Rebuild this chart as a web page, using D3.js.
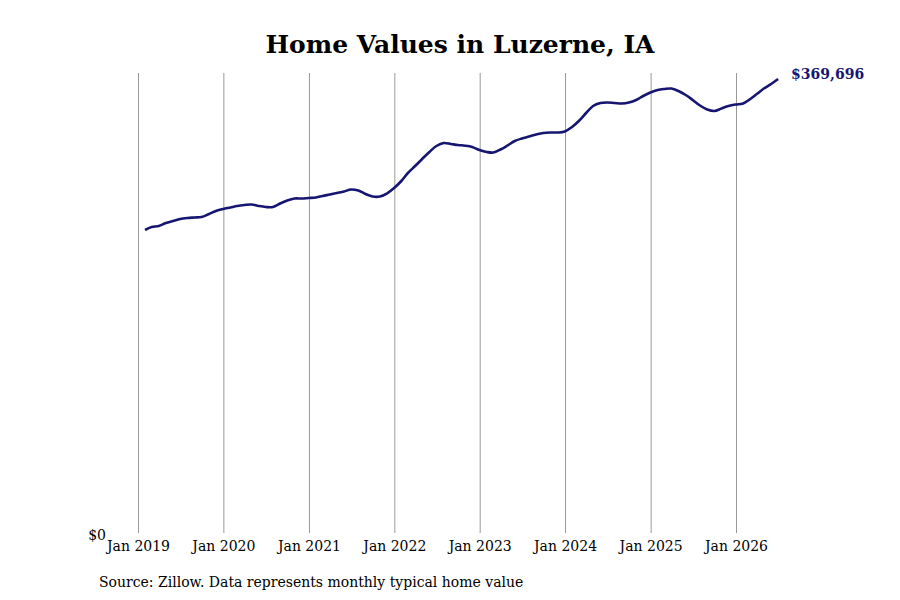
<!DOCTYPE html>
<html>
    <head>
        <meta charset="utf-8">
        <title>home values</title>
        <style>
            body {
                margin: 0;
                background: white;
            }
            svg {
                font-family: "DejaVu Serif", serif;
            }
            .grid line {
                stroke: #999;
                stroke-width: 1;
            }
            path.line {
                fill: none;
                stroke: #161672;
                stroke-width: 2.6;
            }
        </style>
        <script src="https://d3js.org/d3.v7.min.js"></script>
    </head>
    <body>
        <svg id='main' width='900' height='600'></svg>
    <script>

        // monthly typical home value, end of month, Jan 2019 .. Jun 2026
        let startMonth = '2019-01';
        let values = [
            246733, 249176, 249990, 252433, 254062, 255690, 256505, 256912, 257319, 259762, 262205, 263833,
            265055, 266276, 267090, 267498, 266276, 265462, 265462, 268312, 270755, 272383, 272383, 272790,
            273198, 274419, 275641, 276862, 278083, 279712, 278898, 276048, 274012, 274012, 276455, 280934,
            286634, 293148, 298848, 304548, 310248, 315134, 317577, 316763, 315948, 315378, 314320, 311877,
            310248, 309841, 312284, 315541, 319206, 321241, 322870, 324499, 325720, 326127, 326127, 326941,
            330606, 335492, 342006, 347706, 350149, 350556, 350149, 349742, 350556, 352592, 355849, 358699,
            360735, 361549, 361956, 359921, 356663, 352592, 348113, 344856, 343635, 345670, 347706, 348920,
            349742, 353006, 357478, 361956, 365621, 369696
        ];
        let tickYears = [2019, 2020, 2021, 2022, 2023, 2024, 2025, 2026];
        let title = 'Home Values in Luzerne, IA';
        let source = 'Source: Zillow. Data represents monthly typical home value';

        let svg = d3.select('svg#main');

        // month-end dates
        let start = d3.timeParse('%Y-%m')(startMonth);
        let data = values.map( (v, i) => ({
            date: d3.timeDay.offset( d3.timeMonth.offset(start, i + 1), -1 ),
            value: v
        }) );

        let x = d3.scaleTime()
            .domain( [new Date(2019, 0, 1), new Date(2026, 0, 1)] )
            .range( [138, 736] );
        let y = d3.scaleLinear()
            .domain( [0, 369696 * 460 / 454] )
            .range( [533, 73] );

        // vertical grid lines at each January
        let ticks = tickYears.map( yr => new Date(yr, 0, 1) );
        svg.append('g')
            .attr('class', 'grid')
            .selectAll('line')
            .data( ticks )
            .enter()
            .append('line')
                .attr('x1', d => x(d) + 0.5)
                .attr('x2', d => x(d) + 0.5)
                .attr('y1', y.range()[1])
                .attr('y2', y(0));

        let xAxis = d3.axisBottom(x)
            .tickValues( ticks )
            .tickSize(0)
            .tickPadding(8)
            .tickFormat( d3.timeFormat('Jan %Y') );
        let ax = svg.append('g')
            .attr('transform', 'translate(0,' + y(0) + ')')
            .call( xAxis );
        ax.select('.domain').remove();
        ax.selectAll('text')
            .attr('font-family', '"DejaVu Serif", serif')
            .attr('font-size', 14)
            .attr('fill', '#000');

        // y label only for zero
        svg.append('text')
            .attr('x', 106)
            .attr('y', y(0) + 7)
            .attr('text-anchor', 'end')
            .attr('font-size', 14)
            .text( d3.format('$,.0f')(0) );

        let line = d3.line()
            .curve( d3.curveCatmullRom.alpha(0.5) )
            .x( d => x(d.date) )
            .y( d => y(d.value) );

        svg.append('path')
            .datum( data )
            .attr('class', 'line')
            .attr('d', line);

        // end label
        let last = data[data.length - 1];
        svg.append('text')
            .attr('x', x(last.date) + 13)
            .attr('y', y(last.value) + 0)
            .attr('font-size', 14)
            .attr('font-weight', 'bold')
            .attr('fill', '#161672')
            .text( d3.format('$,.0f')(last.value) );

        svg.append('text')
            .attr('x', 460)
            .attr('y', 53)
            .attr('text-anchor', 'middle')
            .attr('font-size', 25)
            .attr('font-weight', 'bold')
            .text( title );

        svg.append('text')
            .attr('x', 99)
            .attr('y', 587)
            .attr('font-size', 14)
            .text( source );

    </script>
    </body>
</html>
